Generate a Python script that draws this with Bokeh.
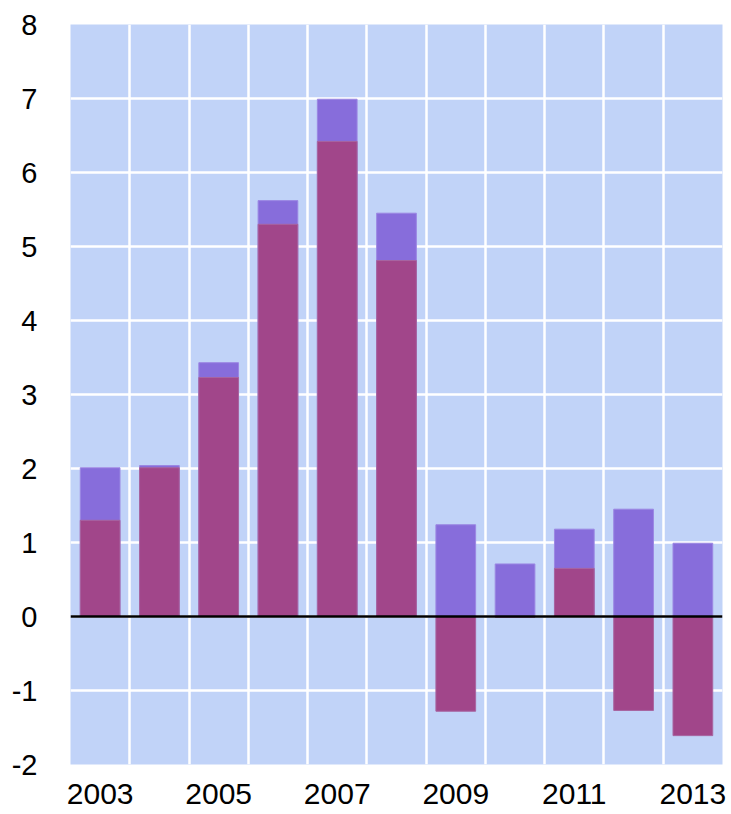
from bokeh.plotting import figure
from bokeh.models import FixedTicker, Span, Range1d, PrintfTickFormatter
from bokeh.embed import file_html
from bokeh.resources import INLINE

years = [2003, 2004, 2005, 2006, 2007, 2008, 2009, 2010, 2011, 2012, 2013]
series_a = [2.01, 2.04, 3.43, 5.62, 6.99, 5.45, 1.24, 0.71, 1.18, 1.45, 0.99]
series_b = [1.30, 2.01, 3.23, 5.30, 6.42, 4.81, -1.28, -0.01, 0.65, -1.27, -1.61]
x_ticks = [2003, 2005, 2007, 2009, 2011, 2013]
y_ticks = [-2, -1, 0, 1, 2, 3, 4, 5, 6, 7, 8]

p = figure(frame_width=652, frame_height=740, output_backend="svg", toolbar_location=None,
           x_range=Range1d(2002.5, 2013.5), y_range=Range1d(-2, 8),
           min_border_left=70, min_border_top=24, min_border_right=8, min_border_bottom=50,
           background_fill_color="#c1d3f8", border_fill_color="white", outline_line_color=None)

p.vbar(x=years, top=series_a, bottom=0, width=0.67, fill_color="#876ddb",
       line_color="#9b87e3", line_width=1)
p.vbar(x=years, top=series_b, bottom=0, width=0.67, fill_color="#a1468a",
       line_color="#a865a0", line_width=1)

p.add_layout(Span(location=0, dimension="width", line_color="black", line_width=2.5))

p.xgrid.ticker = FixedTicker(ticks=[y + 0.5 for y in years[:-1]])
p.xgrid.grid_line_color = "white"
p.xgrid.grid_line_width = 2.5
p.ygrid.ticker = FixedTicker(ticks=y_ticks)
p.ygrid.grid_line_color = "white"
p.ygrid.grid_line_width = 2.5

p.xaxis.ticker = FixedTicker(ticks=x_ticks)
p.yaxis.ticker = FixedTicker(ticks=y_ticks)
p.yaxis.formatter = PrintfTickFormatter(format="%d")
for ax in (p.xaxis[0], p.yaxis[0]):
    ax.axis_line_color = None
    ax.major_tick_line_color = None
    ax.minor_tick_line_color = None
    ax.major_label_text_font = "Liberation Sans"
    ax.major_label_text_color = "black"
p.xaxis.major_label_text_font_size = "30px"
p.yaxis.major_label_text_font_size = "29px"
p.xaxis.major_label_standoff = 13
p.yaxis.major_label_standoff = 27

open("out.html", "w").write(file_html(p, INLINE))
